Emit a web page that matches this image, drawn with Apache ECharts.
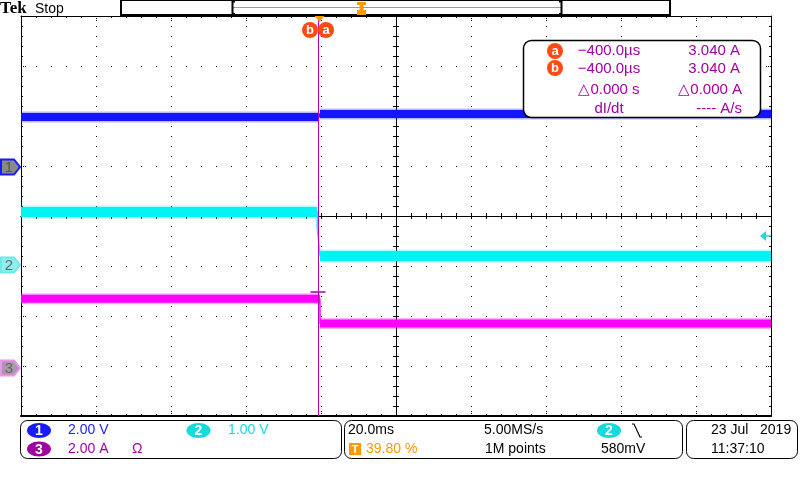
<!DOCTYPE html>
<html><head><meta charset="utf-8">
<script src="https://cdn.jsdelivr.net/npm/echarts@6/dist/echarts.min.js"></script>
<style>html,body{margin:0;padding:0;background:#fff}#c{width:800px;height:480px}</style>
</head><body><div id="c"></div>
<script>
// ---- data (time in ms, trigger at 0) ----
const timeRange = [-79.6, 120.4];          // 20 ms/div, trigger at 39.80 %
const ch1Time  = [-79.6, -0.1, 0.1, 120.4];
const ch1Volts = [2.00, 2.00, 2.12, 2.12];
const ch2Time  = [-79.6, -0.6, -0.6, -0.2, -0.1, 0.1, 0.15, 120.4];
const ch2Volts = [1.06, 1.06, 0.74, 0.74, 0.38, 0.38, 0.18, 0.18];
const ch3Time  = [-79.6, 0.1, 0.15, 120.4];
const ch3Amps  = [2.77, 2.77, 1.78, 1.78];
const cursorTime = -0.4;     // ms
const cursorAmps = 3.04;     // A
const trigLevel = 0.58;      // V on ch2
const chScale  = [2, 1, 2];            // units / div
const chOffset = [0.98, -0.98, -3.04]; // div from centre

const BLUE = '#1414ff', CYAN = '#00f4f4', MAG = '#ff00ff', PURP = '#a000a0', CUR = '#b800b8', ORANGE = '#ff9900', RED = '#ff4a10';
const FONT = '"Liberation Sans", Arial, sans-serif';

const chart = echarts.init(document.getElementById('c'), null, {renderer: 'canvas'});

function pts(ts, vs) { return ts.map((t, i) => [t, vs[i]]); }
function bandPts(ts, vs) {
  const out = [];
  for (let i = 0; i < ts.length - 1; i++) {
    if (vs[i] === vs[i + 1] && ts[i + 1] - ts[i] > 2) { out.push([ts[i], vs[i]], [ts[i + 1], vs[i + 1]], [ts[i + 1], '-']); }
  }
  return out;
}
function chAxis(k) {
  return {type: 'value', show: false, min: (-4 - chOffset[k]) * chScale[k], max: (4 - chOffset[k]) * chScale[k],
    axisLine: {onZero: false}, splitLine: {show: false}};
}
function borderAxis(pos, lw, dim) {
  const vert = dim === 'y';
  return {type: 'value', min: vert ? -4 : -5, max: vert ? 4 : 5, interval: 1, position: pos,
    axisLine: {show: true, onZero: false, lineStyle: {color: '#000', width: lw}},
    axisTick: {show: true, inside: true, length: 5, lineStyle: {color: '#000', width: 1, type: [1, 1]}},
    minorTick: {show: true, splitNumber: 5, length: 2, lineStyle: {color: '#000', width: 1}},
    axisLabel: {show: false}, splitLine: {show: false}};
}
function centreAxis(pos, dim) {
  const vert = dim === 'y';
  return {type: 'value', min: vert ? -4 : -5, max: vert ? 4 : 5, interval: 1, position: pos,
    axisLine: {show: true, onZero: true, onZeroAxisIndex: 0, lineStyle: {color: '#000', width: 1}},
    axisTick: {show: true, inside: true, length: 3, lineStyle: {color: '#000', width: 1}},
    minorTick: {show: true, splitNumber: 5, length: 3, lineStyle: {color: '#000', width: 1}},
    axisLabel: {show: false}, splitLine: {show: false}};
}

const xAxes = [borderAxis('bottom', 2, 'x'), borderAxis('top', 1, 'x'), centreAxis('bottom', 'x'), centreAxis('top', 'x'),
  {type: 'value', show: false, min: timeRange[0], max: timeRange[1], axisLine: {onZero: false}, splitLine: {show: false}}];
xAxes[0].splitLine = {show: true, lineStyle: {color: '#000', width: 1, type: [1, 9]}};
const yAxes = [borderAxis('left', 1, 'y'), borderAxis('right', 1, 'y'), centreAxis('left', 'y'), centreAxis('right', 'y'),
  chAxis(0), chAxis(1), chAxis(2)];
yAxes[0].splitLine = {show: true, lineStyle: {color: '#000', width: 1, type: [1, 14]}};

function trace(name, ts, vs, yIdx, color, w) {
  return [
    {name: name + 'fringe', type: 'line', xAxisIndex: 4, yAxisIndex: yIdx, data: bandPts(ts, vs), showSymbol: false, connectNulls: false,
      lineStyle: {color: color, width: w + 3, cap: 'butt', opacity: 0.3}, z: 3, silent: true},
    {name: name + 'band', type: 'line', xAxisIndex: 4, yAxisIndex: yIdx, data: bandPts(ts, vs), showSymbol: false, connectNulls: false,
      lineStyle: {color: color, width: w, cap: 'butt'}, z: 3, silent: true},
    {name: name + 'edge', type: 'line', xAxisIndex: 4, yAxisIndex: yIdx, data: pts(ts, vs), showSymbol: false,
      lineStyle: {color: color, width: 1.5}, z: 3, silent: true}
  ];
}
const series = [].concat(
  trace('ch1', ch1Time, ch1Volts, 4, BLUE, 8),
  trace('ch2', ch2Time, ch2Volts, 5, CYAN, 10),
  trace('ch3', ch3Time, ch3Amps, 6, MAG, 8)
);
series.push({type: 'line', xAxisIndex: 4, yAxisIndex: 6, data: [], z: 5, silent: true,
  markLine: {silent: true, symbol: 'none', label: {show: false}, animation: false,
    data: [
      {xAxis: cursorTime, lineStyle: {color: CUR, width: 1, type: 'solid'}},
      [{coord: [cursorTime - 2, cursorAmps], lineStyle: {color: PURP, width: 1.5, type: 'solid'}}, {coord: [cursorTime + 2, cursorAmps]}]
    ]}});

chart.setOption({
  animation: false,
  backgroundColor: '#fff',
  grid: {left: 21, top: 16, width: 750, height: 400, containLabel: false},
  xAxis: xAxes, yAxis: yAxes, series: series
});

// ---- screen furniture ----
const px = (t) => chart.convertToPixel({xAxisIndex: 4}, t);
const py = (k, v) => chart.convertToPixel({yAxisIndex: 4 + k}, v);
function txt(s, x, y, color, opts) {
  opts = opts || {};
  return {type: 'text', z: 110, silent: true, style: {text: s, x: x, y: y, fill: color,
    font: (opts.weight || 'normal') + ' ' + (opts.size || 14) + 'px ' + (opts.family || FONT),
    align: opts.align || 'left', verticalAlign: 'middle', textAlign: opts.align || 'left', textVerticalAlign: 'middle'}};
}
function rrect(x, y, w, h, r, stroke, fill, lw) {
  return {type: 'rect', z: 100, silent: true, shape: {x: x, y: y, width: w, height: h, r: r}, style: {stroke: stroke, fill: fill, lineWidth: lw || 1}};
}
function badge(cx, cy, label, fill) {
  return [{type: 'ellipse', z: 105, silent: true, shape: {cx: cx, cy: cy, rx: 12, ry: 7.5}, style: {fill: fill}},
    txt(label, cx, cy + 1, '#fff', {align: 'center', weight: 'bold', size: 14})];
}
function circ(cx, cy, label) {
  return [{type: 'circle', z: 105, silent: true, shape: {cx: cx, cy: cy, r: 8}, style: {fill: RED}},
    txt(label, cx, cy, '#fff', {align: 'center', weight: 'bold', size: 13})];
}
function chMarker(y, label, stroke, fill, digit) {
  return [{type: 'polygon', z: 105, silent: true, shape: {points: [[1, y - 7.5], [14, y - 7.5], [20, y], [14, y + 7.5], [1, y + 7.5]]},
      style: {fill: fill, stroke: stroke, lineWidth: 2}},
    txt(label, 9, y + 1, digit, {align: 'center', size: 15})];
}

const cx = px(cursorTime), tx = px(0);
const y2t = py(1, trigLevel);
let g = [];
// top status bar
g.push(txt('Tek', 0, 9, '#000', {weight: 'bold', size: 17, family: '"Liberation Serif", serif'}));
g.push(txt('Stop', 35, 9, '#000', {size: 14}));
g.push(rrect(121, 0, 549, 15, 0, '#000', '#fff', 2));
g.push({type: 'line', z: 106, silent: true, shape: {x1: 233, y1: 7.5, x2: 561, y2: 7.5}, style: {stroke: '#20d0d0', lineWidth: 1}});
g.push({type: 'polyline', z: 106, silent: true, shape: {points: [[235, 1.5], [232.5, 1.5], [232.5, 14], [235, 14]]}, style: {stroke: '#000', lineWidth: 2, fill: null}});
g.push({type: 'polyline', z: 106, silent: true, shape: {points: [[559, 1.5], [561.5, 1.5], [561.5, 14], [559, 14]]}, style: {stroke: '#000', lineWidth: 2, fill: null}});
g.push({type: 'rect', z: 107, silent: true, shape: {x: 357, y: 2, width: 9, height: 3}, style: {fill: ORANGE}});
g.push({type: 'rect', z: 107, silent: true, shape: {x: 359.5, y: 5, width: 4, height: 6}, style: {fill: ORANGE}});
g.push({type: 'rect', z: 107, silent: true, shape: {x: 357, y: 10, width: 9, height: 5}, style: {fill: ORANGE}});
// trigger position marker and cursor tags
g.push({type: 'polygon', z: 106, silent: true, shape: {points: [[tx - 5, 16], [tx + 5, 16], [tx, 22]]}, style: {fill: ORANGE}});
g = g.concat(circ(cx - 8, 30, 'b'), circ(cx + 8, 30, 'a'));
// cursor readout
g.push(rrect(523.5, 40.5, 237, 77, 8, '#000', '#fff', 1.5));
g = g.concat(circ(555, 51, 'a'), circ(555, 68, 'b'));
g.push(txt('\u2212400.0\u00b5s', 609, 51, PURP, {align: 'center', size: 15}));
g.push(txt('3.040 A', 740, 51, PURP, {align: 'right', size: 15}));
g.push(txt('\u2212400.0\u00b5s', 609, 69, PURP, {align: 'center', size: 15}));
g.push(txt('3.040 A', 740, 69, PURP, {align: 'right', size: 15}));
g.push(txt('\u25b30.000 s', 609, 90, PURP, {align: 'center', size: 15}));
g.push(txt('\u25b30.000 A', 742, 90, PURP, {align: 'right', size: 15}));
g.push(txt('dI/dt', 609, 109, PURP, {align: 'center', size: 15}));
g.push(txt('---- A/s', 742, 109, PURP, {align: 'right', size: 15}));
// channel ground markers + trigger level arrow
g = g.concat(chMarker(py(0, 0), '1', '#1a1aff', '#8a8a8a', '#555'));
g = g.concat(chMarker(py(1, 0), '2', '#70e8e8', '#90eeee', '#666'));
g = g.concat(chMarker(py(2, 0), '3', '#f090f0', '#a89aa8', '#666'));
g.push({type: 'polygon', z: 106, silent: true, shape: {points: [[760, y2t], [766, y2t - 5], [766, y2t + 5]]}, style: {fill: '#20d8d8'}});
g.push({type: 'line', z: 106, silent: true, shape: {x1: 765, y1: y2t, x2: 771, y2: y2t}, style: {stroke: '#20d8d8', lineWidth: 1.5}});
// bottom info boxes
g.push(rrect(20.5, 420.5, 321, 38, 7, '#000', '#fff', 1));
g.push(rrect(344.5, 420.5, 338, 38, 7, '#000', '#fff', 1));
g.push(rrect(686.5, 420.5, 111, 38, 7, '#000', '#fff', 1));
g = g.concat(badge(39, 430.5, '1', '#1a1aff'));
g.push(txt('2.00 V', 68, 430.5, '#2020ff'));
g = g.concat(badge(198.5, 430.5, '2', '#10dcdc'));
g.push(txt('1.00 V', 228, 430.5, '#10dcdc'));
g = g.concat(badge(39, 449, '3', PURP));
g.push(txt('2.00 A', 68, 449, PURP));
g.push(txt('\u03a9', 132, 449, PURP));
g.push(txt('20.0ms', 348, 430.5, '#000'));
g.push({type: 'rect', z: 106, silent: true, shape: {x: 349, y: 443, width: 12, height: 12}, style: {fill: ORANGE}});
g.push(txt('T', 355, 449.5, '#fff', {align: 'center', weight: 'bold', size: 11}));
g.push(txt('39.80 %', 366, 449, ORANGE));
g.push(txt('5.00MS/s', 484, 430.5, '#000'));
g.push(txt('1M points', 485, 449, '#000'));
g = g.concat(badge(609, 430.5, '2', '#10dcdc'));
g.push({type: 'polyline', z: 106, silent: true, shape: {points: [[632, 424], [634, 424], [640, 437], [642, 437]]}, style: {stroke: '#000', lineWidth: 1.2, fill: null}});
g.push(txt('580mV', 601, 449, '#000'));
g.push(txt('23 Jul   2019', 711, 430.5, '#000'));
g.push(txt('11:37:10', 711, 449, '#000'));

chart.setOption({graphic: {elements: g}});
</script></body></html>
